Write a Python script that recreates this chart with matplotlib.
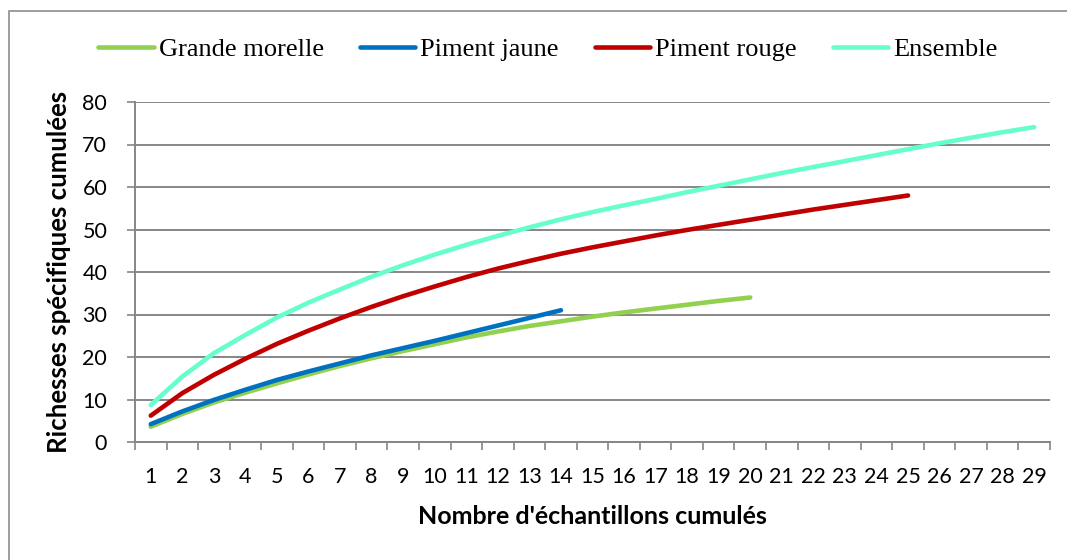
import matplotlib
matplotlib.use("Agg")
from matplotlib import pyplot, ticker
from matplotlib.patches import Rectangle

# cumulative species richness
samples = list(range(1, 30))
grande_morelle = [3.6, 6.6, 9.3, 11.6, 13.8, 15.9, 17.9, 19.7, 21.4, 23.0,
                  24.6, 26.0, 27.3, 28.4, 29.5, 30.5, 31.4, 32.3, 33.2, 34.0]
piment_jaune = [4.2, 7.2, 9.9, 12.3, 14.6, 16.6, 18.5, 20.4, 22.1, 23.8,
                25.6, 27.4, 29.2, 31.0]
piment_rouge = [6.2, 11.5, 15.8, 19.6, 23.1, 26.2, 29.1, 31.8, 34.3, 36.6,
                38.8, 40.8, 42.6, 44.3, 45.8, 47.2, 48.6, 49.9, 51.1, 52.3,
                53.5, 54.7, 55.8, 56.9, 58.0]
ensemble = [8.7, 15.4, 20.9, 25.2, 29.3, 32.8, 35.9, 38.9, 41.6, 44.1,
            46.4, 48.5, 50.5, 52.4, 54.1, 55.7, 57.2, 58.8, 60.3, 61.8,
            63.3, 64.7, 66.1, 67.5, 68.9, 70.3, 71.6, 72.9, 74.1]

series = [
    ("Grande morelle", grande_morelle, "#92D050"),
    ("Piment jaune", piment_jaune, "#0070C0"),
    ("Piment rouge", piment_rouge, "#C00000"),
    ("Ensemble", ensemble, "#66FFCC"),
]

grid_col = "#868686"
tick_font = ["Lato", "DejaVu Sans"]


def main():
    fig = pyplot.figure(figsize=(10.67, 5.6), dpi=100)
    ax = fig.add_axes([135 / 1067, 1 - 442 / 560, 915 / 1067, 340 / 560])

    # outer chart frame (only left and top visible in the crop)
    fig.patches.append(Rectangle((9 / 1067, -0.1), 1.2, 1 - 11 / 560 + 0.1,
                                 transform=fig.transFigure, fill=False,
                                 edgecolor="#8c8c8c", linewidth=1.2))

    for name, values, colour in series:
        ax.plot(samples[:len(values)], values, color=colour, linewidth=3.3,
                solid_capstyle="round", solid_joinstyle="round", label=name,
                zorder=3)

    ax.set_xlim(0.5, 29.5)
    ax.set_ylim(0, 80)
    ax.yaxis.set_major_locator(ticker.MultipleLocator(10))
    ax.grid(axis="y", color=grid_col, linewidth=1.4)
    ax.set_axisbelow(True)

    # category axis: ticks between categories, labels on categories
    ax.xaxis.set_major_locator(ticker.FixedLocator([i + 0.5 for i in range(0, 30)]))
    ax.xaxis.set_major_formatter(ticker.NullFormatter())
    ax.xaxis.set_minor_locator(ticker.FixedLocator(samples))
    ax.xaxis.set_minor_formatter(ticker.FixedFormatter([str(s) for s in samples]))
    ax.tick_params(axis="x", which="major", length=6, width=1.2, color=grid_col)
    ax.tick_params(axis="x", which="minor", length=0, pad=18)
    ax.tick_params(axis="y", length=6, width=1.2, color=grid_col, pad=14)
    for lab in ax.get_xticklabels(minor=True) + ax.get_yticklabels():
        lab.set_family(tick_font)
        lab.set_fontsize(15.5)

    for side in ("top", "right"):
        ax.spines[side].set_visible(False)
    for side in ("left", "bottom"):
        ax.spines[side].set_color(grid_col)
        ax.spines[side].set_linewidth(1.4)

    ax.set_xlabel("Nombre d'échantillons cumulés", family=tick_font,
                  fontweight="bold", fontsize=18, labelpad=13)
    ax.set_ylabel("Richesses spécifiques cumulées", family=tick_font,
                  fontweight="bold", fontsize=18.5, labelpad=8)

    fig.legend(loc="center", bbox_to_anchor=(548 / 1067, 1 - 49 / 560), ncol=4,
               frameon=False, prop={"family": "Liberation Serif", "size": 19},
               handlelength=2.1, handletextpad=0.2, columnspacing=1.35,
               borderaxespad=0)

    fig.savefig("out.png", dpi=100, facecolor="white")


if __name__ == "__main__":
    main()
